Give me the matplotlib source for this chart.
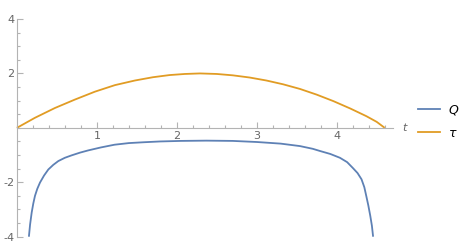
import matplotlib
matplotlib.use("Agg")
import matplotlib.pyplot as plt
from matplotlib.ticker import MultipleLocator, FixedLocator
from matplotlib.lines import Line2D

plt.rcParams["axes.unicode_minus"] = False

# Data
t_tau = [0.0, 0.226, 0.476, 0.726, 0.976, 1.226, 1.476, 1.70, 1.91, 2.10, 2.29, 2.50, 2.70, 2.91, 3.12, 3.33, 3.54, 3.75, 3.96, 4.17, 4.37, 4.50, 4.60]
tau   = [0.0, 0.37, 0.73, 1.04, 1.33, 1.57, 1.74, 1.86, 1.94, 1.98, 2.00, 1.98, 1.93, 1.85, 1.74, 1.60, 1.43, 1.22, 0.98, 0.71, 0.43, 0.22, 0.0]

t_Q = [0.15, 0.165, 0.185, 0.205, 0.226, 0.255, 0.289, 0.34, 0.393, 0.455, 0.518, 0.60, 0.685, 0.79, 0.89, 1.05, 1.22, 1.40, 1.58, 1.79, 2.05, 2.37, 2.70, 3.00, 3.30, 3.54, 3.70, 3.79, 3.92, 4.04, 4.13, 4.20, 4.26, 4.31, 4.345, 4.37, 4.395, 4.42, 4.44, 4.455]
Q   = [-4.0, -3.55, -3.11, -2.78, -2.50, -2.24, -2.01, -1.75, -1.53, -1.36, -1.22, -1.10, -1.01, -0.91, -0.83, -0.72, -0.62, -0.56, -0.53, -0.50, -0.48, -0.47, -0.48, -0.52, -0.58, -0.67, -0.77, -0.85, -0.96, -1.10, -1.26, -1.47, -1.66, -1.89, -2.18, -2.51, -2.85, -3.24, -3.6, -4.0]

x_major = [1, 2, 3, 4]
y_major = [-4, -2, 2, 4]
series_labels = ["Q", "τ"]

blue = "#5E81B5"
orange = "#E19C24"
axcol = "#b3b3b3"
labcol = "#666666"

fig = plt.figure(figsize=(4.69, 2.45), dpi=100)
ax = fig.add_axes([16.9/469, 8.3/245, (392.7-16.9)/469, (236.7-19)/245])

ax.plot(t_Q, Q, color=blue, lw=1.3, solid_capstyle="butt", solid_joinstyle="round", clip_on=False)
ax.plot(t_tau, tau, color=orange, lw=1.3, solid_capstyle="butt", solid_joinstyle="round", clip_on=False)

ax.set_xlim(0, 4.7)
ax.set_ylim(-4, 4)

for s in ["top", "right"]:
    ax.spines[s].set_visible(False)
ax.spines["left"].set_position(("data", 0))
ax.spines["bottom"].set_position(("data", 0))
for s in ["left", "bottom"]:
    ax.spines[s].set_color(axcol)
    ax.spines[s].set_linewidth(0.8)

ax.xaxis.set_major_locator(FixedLocator(x_major))
ax.xaxis.set_minor_locator(MultipleLocator(0.2))
ax.yaxis.set_major_locator(FixedLocator(y_major))
ax.yaxis.set_minor_locator(MultipleLocator(0.5))
ax.tick_params(which="both", direction="in", color=axcol, width=0.8, labelcolor=labcol, labelsize=8)
ax.tick_params(which="major", length=4)
ax.tick_params(which="minor", length=2.5)
ax.tick_params(axis="x", pad=2)
ax.tick_params(axis="y", pad=2)

ax.text(404/469, 1-128/245, "t", transform=fig.transFigure, color=labcol, fontsize=8,
        style="italic", ha="center", va="center")

handles = [Line2D([], [], color=blue, lw=1.3), Line2D([], [], color=orange, lw=1.3)]
leg = fig.legend(handles, series_labels, loc="center left",
                 bbox_to_anchor=(418/469, 1-121.5/245), frameon=False,
                 fontsize=9, handlelength=1.75, handletextpad=0.7,
                 labelspacing=0.85, borderaxespad=0, borderpad=0)
for txt in leg.get_texts():
    txt.set_style("italic")

fig.savefig("out.png", dpi=100)
